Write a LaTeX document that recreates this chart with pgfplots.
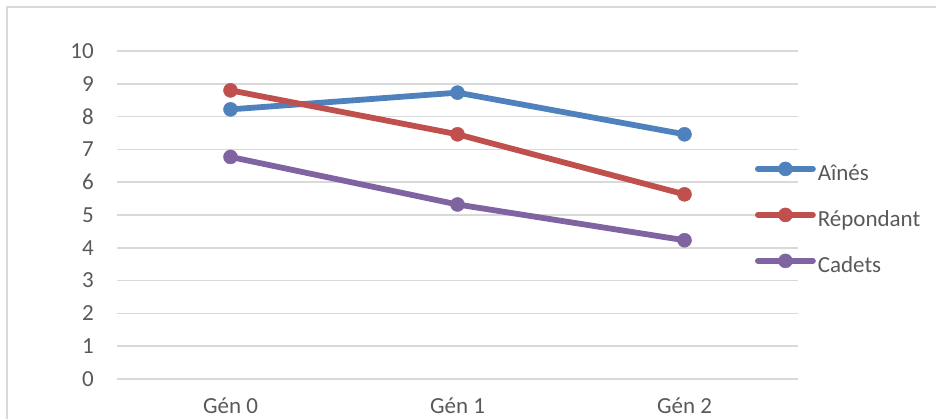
\documentclass[border=0pt]{standalone}
\usepackage{pgfplots}
\pgfplotsset{compat=1.18}
\usepackage{fontspec}
\setmainfont{Carlito}
\definecolor{cblue}{HTML}{4F81BD}
\definecolor{cred}{HTML}{C0504D}
\definecolor{cpurple}{HTML}{8064A2}
\definecolor{ctext}{HTML}{595959}
\definecolor{cgrid}{HTML}{D9D9D9}
\begin{document}
\begin{tikzpicture}
\useasboundingbox (0,0) rectangle (936pt,419pt);
\draw[cgrid, line width=2pt] (7pt,-5pt) -- (7pt,412pt) -- (945pt,412pt);
\begin{axis}[
  at={(117pt,40pt)}, anchor=south west,
  scale only axis, width=681pt, height=328pt,
  xmin=-0.5, xmax=2.5, ymin=0, ymax=10,
  xtick={0,1,2}, xticklabels={Gén 0,Gén 1,Gén 2},
  ytick={0,1,...,10},
  axis line style={draw=none},
  tick style={draw=none},
  ymajorgrids, grid style={cgrid, line width=1.5pt},
  /pgf/number format/assume math mode=true,
  tick label style={text=ctext, font=\fontsize{23}{28}\selectfont},
  yticklabel style={anchor=east, inner sep=0pt, xshift=-23pt},
  xticklabel style={anchor=base, inner sep=0pt, text depth=0pt, yshift=-35pt},
  clip=false,
  every axis plot/.append style={line width=5.8pt, line cap=round, line join=round},
  legend image code/.code={\draw[mark repeat=2,mark phase=2,#1] plot coordinates {(0pt,6.5pt) (27.5pt,6.5pt) (55pt,6.5pt)};},
  legend cell align=left,
  legend style={draw=none, fill=none, at={(axis cs:2.3106,4.85)}, anchor=west,
    inner sep=0pt, outer sep=0pt, row sep=22pt, column sep=2pt,
    nodes={inner sep=0pt, text height=16pt, text depth=5pt, text=ctext, font=\fontsize{23}{28}\selectfont}},
]
\addplot[cblue, mark=*, mark size=7pt, mark options={solid, line width=0.5pt, fill=cblue}]
  coordinates {(0,8.22) (1,8.73) (2,7.46)};
\addlegendentry{Aînés}
\addplot[cred, mark=*, mark size=7pt, mark options={solid, line width=0.5pt, fill=cred}]
  coordinates {(0,8.80) (1,7.46) (2,5.63)};
\addlegendentry{Répondant}
\addplot[cpurple, mark=*, mark size=7pt, mark options={solid, line width=0.5pt, fill=cpurple}]
  coordinates {(0,6.77) (1,5.32) (2,4.23)};
\addlegendentry{Cadets}
\end{axis}
\end{tikzpicture}
\end{document}
